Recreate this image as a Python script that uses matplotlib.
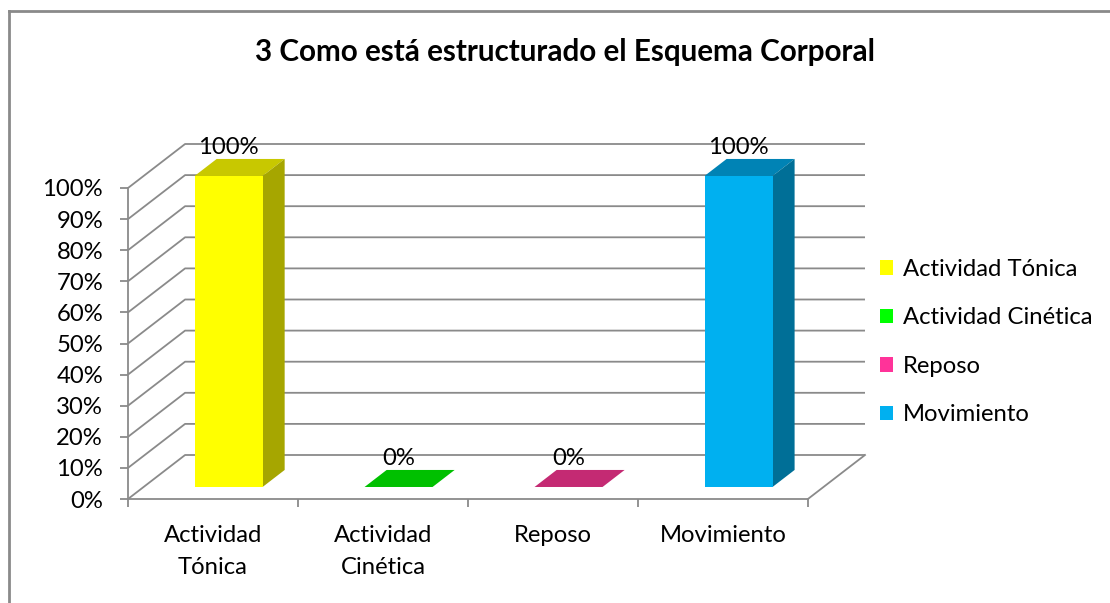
import matplotlib
matplotlib.use("Agg")
import matplotlib.pyplot as plt
from matplotlib.patches import Polygon, Patch
from matplotlib.lines import Line2D

plt.rcParams['font.family'] = ['Lato', 'DejaVu Sans']

# ---- data ----
categories = ["Actividad\nTónica", "Actividad\nCinética", "Reposo", "Movimiento"]
legend_labels = ["Actividad Tónica", "Actividad Cinética", "Reposo", "Movimiento"]
values = [100, 0, 0, 100]
value_labels = ["100%", "0%", "0%", "100%"]
yticks = [0, 10, 20, 30, 40, 50, 60, 70, 80, 90, 100]
ytick_labels = [f"{t}%" for t in yticks]
title = "3 Como está estructurado el Esquema Corporal"

# ---- style ----
front_colors = ["#FFFF00", "#00FF00", "#FF3399", "#00B0F0"]
top_colors = ["#C8C800", "#00C000", "#C42A73", "#0083B5"]
side_colors = ["#A6A600", "#00A000", "#A0205E", "#006F97"]
grid_color = "#8A8A8A"
FS = 17.2

W, H = 1110, 603
fig = plt.figure(figsize=(W / 100, H / 100), dpi=100)

# oblique "3D" depth offsets (in data units)
DXc = 57 / 169.75      # category units
DYv = 44 / 3.11        # percent units
z0, z1 = 0.273, 0.66   # bar depth (front/back) fractions
BW = 0.4               # bar width (category units)

n = len(categories)
xmax = n + DXc
ymax = 100 + DYv

ax = fig.add_axes([128 / W, 1 - 499 / H, 737 / W, 355 / H])
ax.set_xlim(0, xmax)
ax.set_ylim(0, ymax)
ax.patch.set_visible(False)

# gridlines: left side wall diagonals + back wall horizontals
for t in yticks:
    ax.plot([0, DXc, n + DXc], [t, t + DYv, t + DYv], color=grid_color,
            lw=1.3, zorder=1, solid_capstyle='butt', clip_on=False)
# floor right edge
ax.plot([n, n + DXc], [0, DYv], color=grid_color, lw=1.3, zorder=1, clip_on=False)

# bars
for i, v in enumerate(values):
    xl = i + 0.5 - BW / 2
    xr = i + 0.5 + BW / 2
    top = Polygon([(xl + z0 * DXc, v + z0 * DYv), (xr + z0 * DXc, v + z0 * DYv),
                   (xr + z1 * DXc, v + z1 * DYv), (xl + z1 * DXc, v + z1 * DYv)],
                  closed=True, facecolor=top_colors[i], edgecolor='none', zorder=3)
    ax.add_patch(top)
    if v > 0:
        side = Polygon([(xr + z0 * DXc, z0 * DYv), (xr + z0 * DXc, v + z0 * DYv),
                        (xr + z1 * DXc, v + z1 * DYv), (xr + z1 * DXc, z1 * DYv)],
                       closed=True, facecolor=side_colors[i], edgecolor='none', zorder=3)
        ax.add_patch(side)
ax.bar([i + 0.5 + z0 * DXc for i in range(n)], values, width=BW,
       bottom=z0 * DYv, color=front_colors, edgecolor='none', zorder=4)

# value labels
for i, (v, lab) in enumerate(zip(values, value_labels)):
    ax.annotate(lab, (i + 0.5 + z0 * DXc, v + z1 * DYv), xytext=(0, 8),
                textcoords='offset points', ha='center', va='center',
                fontsize=FS, color='black', zorder=6)

# axes / ticks
for s in ['top', 'right']:
    ax.spines[s].set_visible(False)
for s in ['left', 'bottom']:
    ax.spines[s].set_color(grid_color)
    ax.spines[s].set_linewidth(1.3)
ax.spines['left'].set_bounds(0, 100)
ax.spines['bottom'].set_bounds(0, n)

ax.set_yticks(yticks)
ax.set_yticklabels(ytick_labels, fontsize=FS)
ax.tick_params(axis='y', direction='out', length=6, width=1.3, color=grid_color, pad=12)

ax.set_xticks(list(range(n + 1)))
ax.set_xticklabels([""] * (n + 1))
ax.tick_params(axis='x', which='major', direction='out', length=6, width=1.3, color=grid_color)
ax.set_xticks([i + 0.5 for i in range(n)], minor=True)
ax.set_xticklabels(categories, minor=True, fontsize=FS, linespacing=1.62, va='top')
ax.tick_params(axis='x', which='minor', length=0, pad=19)

# title
fig.text(565 / W, 1 - 52 / H, title, ha='center', va='center', fontsize=21.3, fontweight='bold')

# legend
handles = [Patch(facecolor=c, edgecolor='none') for c in front_colors]
fig.legend(handles, legend_labels, loc='upper left', bbox_to_anchor=(880 / W, 1 - 259 / H),
           frameon=False, fontsize=FS, handlelength=0.55, handleheight=0.55,
           handletextpad=0.4, labelspacing=1.15, borderpad=0, borderaxespad=0)

# chart area border (left and top edges visible)
fig.add_artist(Line2D([9 / W, 9 / W], [0, 1 - 11 / H], color="#8A8A8A", lw=2,
                      transform=fig.transFigure))
fig.add_artist(Line2D([9 / W, 1], [1 - 11 / H, 1 - 11 / H], color="#8A8A8A", lw=2,
                      transform=fig.transFigure))

fig.savefig("out.png", dpi=100)
